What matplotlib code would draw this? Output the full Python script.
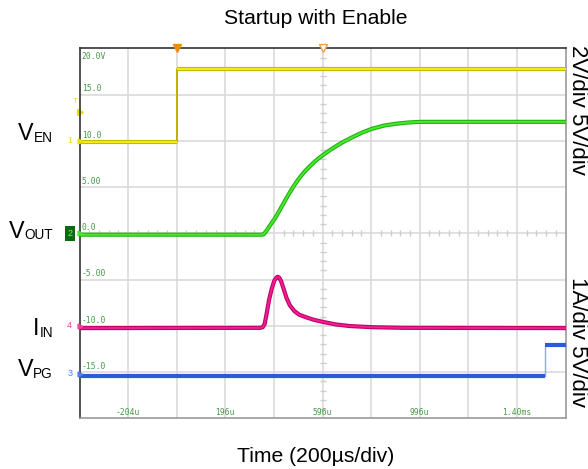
import matplotlib

matplotlib.use("Agg")
import matplotlib.pyplot as plt
import numpy as np

plt.rcParams["font.family"] = ["Liberation Sans", "DejaVu Sans"]

# screen: 10 x 200 us, 8 x 5 V
T_START, T_DIV, N_TDIV = -404, 200, 10
V_TOP, V_DIV, N_VDIV = 20, 5, 8

# traces (time in us, screen volts)
ven_t = [-404, -4, -4, 1596]
ven_v = [9.9, 9.9, 17.8, 17.8]

vout_t = [-404, 347, 356, 365, 380, 400, 420, 440, 460, 480, 500, 520, 540, 560, 580, 600,
          630, 660, 690, 720, 760, 800, 850, 900, 950, 1000, 1596]
vout_v = [-0.15, -0.15, -0.05, 0.25, 0.85, 1.6, 2.5, 3.45, 4.35, 5.2, 5.95, 6.6, 7.15, 7.65, 8.1, 8.5,
          9.05, 9.55, 10.0, 10.4, 10.9, 11.3, 11.65, 11.85, 11.98, 12.05, 12.05]

iin_t = [-404, 340, 350, 358, 366, 376, 387, 398, 406, 412, 418, 426, 436, 448, 462, 480, 500,
         531, 560, 598, 650, 709, 800, 927, 1596]
iin_v = [-10.25, -10.22, -10.15, -9.8, -8.7, -7.2, -6.0, -5.1, -4.8, -4.7, -4.8, -5.2, -6.0, -7.0,
         -7.8, -8.4, -8.8, -9.1, -9.35, -9.58, -9.85, -10.03, -10.15, -10.22, -10.25]

vpg_t = [-404, 1512, 1512, 1596]
vpg_v = [-15.4, -15.4, -12.1, -12.1]

y_tick_vals = [20, 15, 10, 5, 0, -5, -10, -15]
y_tick_text = ["20.0V", "15.0", "10.0", "5.00", "0.0", "-5.00", "-10.0", "-15.0"]
x_tick_vals = [-204, 196, 596, 996, 1396]
x_tick_text = ["-204u", "196u", "596u", "996u", "1.40ms"]

trig_t = [-4, 596]

# name, subscript, baseline (figure px from top)
LEFT_LABELS = [("V", "EN", 140), ("V", "OUT", 237.5), ("I", "IN", 335), ("V", "PG", 376.5)]
CH_MARKS = [("1", 10.0, "#e8e000"), ("2", 0.0, "#1a8a1a"), ("4", -10.0, "#f040a0"), ("3", -15.2, "#4a80f0")]

W, H = 588, 469
fig = plt.figure(figsize=(W / 100, H / 100), dpi=100)
ax = fig.add_axes([79.5 / W, 1 - 418.3 / H, 486 / W, 370 / H])

t_end = T_START + T_DIV * N_TDIV
ax.set_xlim(T_START, t_end)
ax.set_ylim(V_TOP - V_DIV * N_VDIV, V_TOP)
ax.set_xticks([])
ax.set_yticks([])

# graticule
for k in range(1, N_TDIV):
    ax.axvline(T_START + k * T_DIV, color="#dadada", lw=1.2, zorder=0)
for k in range(1, N_VDIV):
    ax.axhline(V_TOP - k * V_DIV, color="#dadada", lw=1.2, zorder=0)
t_mid = T_START + T_DIV * N_TDIV / 2
minor_v = [v for v in np.arange(-20, 21, 1) if v % 5]
ax.plot([t_mid] * len(minor_v), minor_v, ls="none", marker="_", ms=5, color="#cccccc", zorder=0)
minor_t = [t for t in np.arange(T_START, t_end + 1, 40) if (t - T_START) % 200]
ax.plot(minor_t, [0] * len(minor_t), ls="none", marker="|", ms=5, color="#cccccc", zorder=0)

for side, c in [("left", "#333333"), ("top", "#333333"), ("right", "#9a9a9a"), ("bottom", "#9a9a9a")]:
    ax.spines[side].set_color(c)
    ax.spines[side].set_linewidth(1.2)

# scope labels in the screen
for v, s in zip(y_tick_vals, y_tick_text):
    ax.annotate(s, xy=(0, v), xycoords=("axes fraction", "data"), xytext=(1.5, -2.5 if v == V_TOP else 0.8),
                textcoords="offset points", fontsize=5.8, family="DejaVu Sans Mono", color="#4a984a",
                va="top" if v == V_TOP else "bottom", ha="left")
for t, s in zip(x_tick_vals, x_tick_text):
    ax.annotate(s, xy=(t, 0), xycoords=("data", "axes fraction"), xytext=(0, 1.2),
                textcoords="offset points", fontsize=5.8, family="DejaVu Sans Mono", color="#4a984a",
                va="bottom", ha="center")

# traces
ax.plot(ven_t, ven_v, color="#c0b000", lw=1.4, zorder=3)
for seg in (slice(0, 2), slice(2, 4)):
    ax.plot(ven_t[seg], ven_v[seg], color="#c8b800", lw=3, zorder=3, solid_capstyle="butt")
    ax.plot(ven_t[seg], ven_v[seg], color="#f2ee14", lw=1.4, zorder=3, solid_capstyle="butt")

ax.plot(vout_t, vout_v, color="#22b012", lw=3, zorder=3)
ax.plot(vout_t, vout_v, color="#48ea2c", lw=1.4, zorder=3)

ax.plot(iin_t, iin_v, color="#c2006c", lw=3, zorder=3)
ax.plot(iin_t, iin_v, color="#ec2090", lw=1.4, zorder=3)

ax.plot(vpg_t, vpg_v, color="#8aa8f0", lw=1.0, zorder=3)
for seg in (slice(0, 2), slice(2, 4)):
    ax.plot(vpg_t[seg], vpg_v[seg], color="#2a5cd8", lw=3, zorder=3, solid_capstyle="butt")

# trigger markers
ax.plot(trig_t[0], V_TOP, marker="v", ms=6, color="#f08c10", clip_on=False, zorder=5)
ax.plot(trig_t[1], V_TOP, marker="v", ms=6, mfc="white", mec="#f0a040", clip_on=False, zorder=5)

# channel markers left of the screen
for ch, v, c in CH_MARKS:
    boxed = ch == "2"
    ax.annotate(ch, xy=(0, v), xycoords=("axes fraction", "data"), xytext=(-7, 0),
                textcoords="offset points", fontsize=6.5, color="#7cf070" if boxed else c,
                va="center", ha="center",
                bbox=dict(boxstyle="square,pad=0.3", fc="#0b6a0b", ec="none") if boxed else None)
    ax.plot(0, v, transform=ax.get_yaxis_transform(), marker=">", ms=3.5, color="#44e62a" if boxed else c,
            clip_on=False, zorder=5)
ax.annotate("T", xy=(0, 14.2), xycoords=("axes fraction", "data"), xytext=(-3, 0),
            textcoords="offset points", fontsize=6, color="#e8e000", va="center", ha="center")
ax.plot(0, 13.1, transform=ax.get_yaxis_transform(), marker=">", ms=4, color="#e8e000", clip_on=False)

# channel names: big letter + small subscript, right aligned at x = 53 px
renderer = fig.canvas.get_renderer()
for main, sub, base in LEFT_LABELS:
    st = fig.text(53 / W, 1 - (base + 1.5) / H, sub, fontsize=9.8, ha="right", va="baseline")
    x0 = st.get_window_extent(renderer).x0
    fig.text(x0 / W, 1 - base / H, main, fontsize=16.8, ha="right", va="baseline")

fig.text(316 / W, 1 - 19 / H, "Startup with Enable", fontsize=15.2, ha="center", va="center")
fig.text(316 / W, 1 - 456 / H, "Time (200µs/div)", fontsize=15.2, ha="center", va="center")
fig.text(577 / W, 1 - 45 / H, "2V/div 5V/div", fontsize=16, rotation=270, ha="center", va="top")
fig.text(577 / W, 1 - 277 / H, "1A/div 5V/div", fontsize=16, rotation=270, ha="center", va="top")

fig.savefig("out.png", dpi=100)
